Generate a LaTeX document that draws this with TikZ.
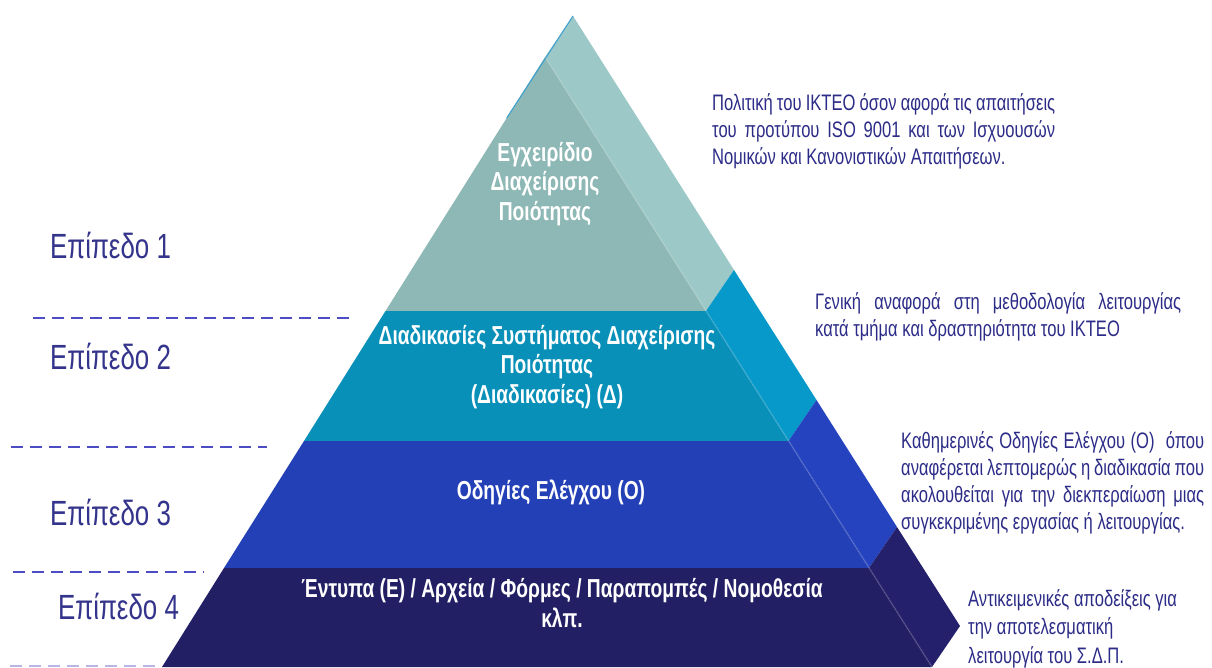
\documentclass[tikz,border=0pt]{standalone}
\usepackage{fontspec}
\setmainfont{Liberation Sans}
\newfontfamily\narrowfont{Liberation Sans}[FakeStretch=0.74]
\usetikzlibrary{calc}

\definecolor{levelAfront}{HTML}{8DB8B5}
\definecolor{levelAside}{HTML}{9CC8C7}
\definecolor{levelBfront}{HTML}{0890B9}
\definecolor{levelBside}{HTML}{0699CA}
\definecolor{levelCfront}{HTML}{2340B6}
\definecolor{levelCside}{HTML}{2543BF}
\definecolor{levelDfront}{HTML}{221F64}
\definecolor{levelDside}{HTML}{25206B}
\definecolor{labelblue}{HTML}{34348C}
\definecolor{notesblue}{HTML}{2C2C88}
\definecolor{dashblue}{HTML}{4C4CC4}
\definecolor{edgeblue}{HTML}{3A9FD0}

\tikzset{
	levelline/.style={draw=dashblue, line width=2.6pt, dash pattern=on 12pt off 7pt},
	levellabel/.style={anchor=west, inner sep=0pt, text=labelblue,
		font=\narrowfont\fontsize{35}{40}\selectfont},
	tiertext/.style={align=center, inner sep=0pt, text=white,
		font=\narrowfont\bfseries\fontsize{26}{29.5}\selectfont},
	notetext/.style={anchor=north west, inner sep=0pt, text=notesblue,
		font=\narrowfont\fontsize{22.4}{27}\selectfont}
}

\begin{document}
\begin{tikzpicture}[x=1pt, y=-1pt]
	\useasboundingbox (0,0) rectangle (1212,668);
	\fill[white] (0,0) rectangle (1212,668);

	% front face corners, level by level
	\coordinate (Top) at (545,57);
	\coordinate (L1) at (385.5,311);
	\coordinate (R1) at (706,311);
	\coordinate (L2) at (304,441);
	\coordinate (R2) at (788.5,441);
	\coordinate (L3) at (224,568);
	\coordinate (R3) at (869,568);
	\coordinate (L4) at (162,667);
	\coordinate (R4) at (932,667);

	% side face
	\fill[levelAside] (Top) -- (R1) -- ($(R1)+(28,-41)$) -- ($(Top)+(28,-41)$) -- cycle;
	\fill[levelBside] (R1) -- (R2) -- ($(R2)+(28,-41)$) -- ($(R1)+(28,-41)$) -- cycle;
	\fill[levelCside] (R2) -- (R3) -- ($(R3)+(28,-41)$) -- ($(R2)+(28,-41)$) -- cycle;
	\fill[levelDside] (R3) -- (R4) -- ($(R4)+(28,-41)$) -- ($(R3)+(28,-41)$) -- cycle;

	% front face
	\fill[levelAfront] (Top) -- (L1) -- (R1) -- cycle;
	\fill[levelBfront] (L1) -- (L2) -- (R2) -- (R1) -- cycle;
	\fill[levelCfront] (L2) -- (L3) -- (R3) -- (R2) -- cycle;
	\fill[levelDfront] (L3) -- (L4) -- (R4) -- (R3) -- cycle;
	\draw[white, opacity=0.15, line width=1.5pt] (Top) -- (R4);
	\draw[edgeblue, line width=1pt] ($(Top)+(28,-41)$) -- ($(Top)!0.1!(L4)$);

	\node[tiertext] (tier1) at (545,184) {Εγχειρίδιο\\Διαχείρισης\\Ποιότητας};
	\node[tiertext] (tier2) at (547,367) {Διαδικασίες Συστήματος Διαχείρισης\\Ποιότητας\\(Διαδικασίες) (Δ)};
	\node[tiertext] (tier3) at (551,492) {Οδηγίες Ελέγχου (Ο)};
	\node[tiertext] (tier4) at (562,603) {Έντυπα (Ε) / Αρχεία / Φόρμες / Παραπομπές / Νομοθεσία\\κλπ.};

	% levels on the left
	\draw[levelline] (33,318) -- (353,318);
	\draw[levelline] (11,447) -- (267,447);
	\draw[levelline] (13,572) -- (204,572);
	\draw[levelline, draw=dashblue!40] (10,666) -- (160,666);
	\node[levellabel] (lev1) at (50,245) {Επίπεδο 1};
	\node[levellabel] (lev2) at (50,356) {Επίπεδο 2};
	\node[levellabel] (lev3) at (50,512) {Επίπεδο 3};
	\node[levellabel] (lev4) at (58,606) {Επίπεδο 4};

	% notes on the right
	\node[notetext, text width=343pt, align=justify] (note1) at (712,93)
		{Πολιτική του ΙΚΤΕΟ όσον αφορά τις απαιτήσεις του προτύπου ISO 9001 και των Ισχυουσών Νομικών και Κανονιστικών Απαιτήσεων.};
	\node[notetext, text width=366pt, align=justify] (note2) at (815,292)
		{Γενική αναφορά στη μεθοδολογία λειτουργίας\linebreak κατά τμήμα και δραστηριότητα του ΙΚΤΕΟ};
	\node[notetext, text width=303pt, align=justify] (note3) at (901,431)
		{Καθημερινές Οδηγίες Ελέγχου (Ο)\ \ όπου αναφέρεται λεπτομερώς η διαδικασία που ακολουθείται για την διεκπεραίωση μιας συγκεκριμένης εργασίας ή λειτουργίας.};
	\node[notetext, align=left, font=\narrowfont\fontsize{22.4}{28.5}\selectfont] (note4) at (968,589)
		{Αντικειμενικές αποδείξεις για\\την αποτελεσματική\\λειτουργία του Σ.Δ.Π.};
\end{tikzpicture}
\end{document}
